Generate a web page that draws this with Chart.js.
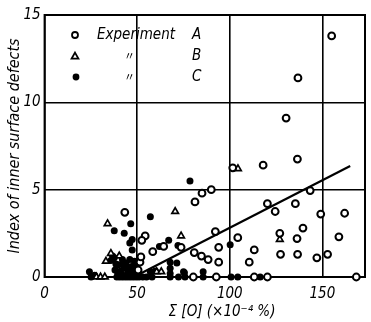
<!DOCTYPE html>
<html>
<head>
<meta charset="utf-8">
<script src="https://cdn.jsdelivr.net/npm/chart.js@4.4.0/dist/chart.umd.min.js"></script>
<style>
  html, body { margin: 0; padding: 0; background: #fff; }
  #wrap { width: 371px; height: 322px; }
</style>
</head>
<body>
<div id="wrap"><canvas id="myChart" width="371" height="322"></canvas></div>
<script>
// ------ data ------
var xTicks = [0, 50, 100, 150];
var yTicks = [0, 5, 10, 15];

// Experiment A (open circles)
var aX = [155, 136.8, 130.4, 118, 136.5, 101.6, 90, 85, 81.2, 143.4, 120.3, 124.5, 135.4, 149.1, 162,
  92.2, 104.3, 139.5, 127, 136.3, 158.9, 73.7, 94, 113.2, 80.8, 84.7, 88.3, 94, 110.5,
  127.4, 136.6, 147, 152.8, 80.3, 92.7, 113.2, 120.3, 168.3, 43.3, 54.3, 52.5, 58.4, 64.3, 51.5, 50.5, 52];
var aY = [13.8, 11.4, 9.1, 6.4, 6.75, 6.25, 5.0, 4.8, 4.3, 4.95, 4.2, 3.75, 4.2, 3.6, 3.65,
  2.6, 2.25, 2.8, 2.5, 2.2, 2.3, 1.7, 1.7, 1.55, 1.4, 1.2, 1.0, 0.85, 0.85,
  1.3, 1.3, 1.1, 1.3, 0, 0, 0, 0, 0, 3.7, 2.35, 2.1, 1.45, 1.75, 0.85, 0.4, 1.15];

// Experiment B (open triangles)
var bX = [104.4, 73.7, 127, 70.5, 34, 35.8, 40.3, 33.1, 28, 30.2, 32.5, 60.5, 63];
var bY = [6.2, 2.35, 2.15, 3.75, 3.05, 1.35, 1.2, 0.9, 0, 0, 0, 0.3, 0.3];

// Experiment C (filled circles)
var cX = [78.5, 57.1, 46.5, 37.6, 43, 47.3, 46, 47.3, 62, 67, 100.2, 72, 71.4, 75.5, 85.6,
  75.8, 85.6, 100.7, 104.3, 116.4, 72.3, 24.2, 25.1, 27, 36.7, 35.8, 37.6,
  39, 40.5, 42, 43.5, 45, 46.5, 48, 49.5, 51, 53, 41, 43, 45, 47, 44, 46, 48, 40, 42, 38,
  57.1, 59.8, 67.8, 67.8, 67.8, 67.8, 55, 58, 75,
  39.5, 41.5, 44.5, 47.5, 49, 42.5, 45.5, 48.5, 50.5, 38.5];
var cY = [5.5, 3.45, 3.05, 2.65, 2.5, 2.15, 1.95, 1.55, 1.75, 2.1, 1.85, 1.8, 0.8, 0.25, 0.3,
  0, 0, 0, 0, 0, 0, 0.3, 0, 0.1, 1.2, 0.95, 1.1,
  0, 0, 0, 0, 0, 0, 0, 0, 0, 0, 0.35, 0.5, 0.3, 0.6, 0.8, 1.0, 0.4, 0.7, 1.0, 0.4,
  0.3, 0.35, 0.85, 0.5, 0.2, 0, 0, 0, 0.3,
  0.2, 0.15, 0.15, 0.2, 0.7, 0.75, 0.55, 0.9, 0.15, 0.75];

// fitted line
var lineX = [50, 165];
var lineY = [0.1, 6.35];

var legendNames = ['Experiment', '\u3003', '\u3003'];
var legendLetters = ['A', 'B', 'C'];

function pts(xs, ys) {
  return xs.map(function (x, i) { return { x: x, y: ys[i] }; });
}

var FONT = '"DejaVu Sans Condensed", "Liberation Sans Narrow", "DejaVu Sans", sans-serif';

// frame round the plot area
var framePlugin = {
  id: 'frame',
  beforeDatasetsDraw: function (chart) {
    var a = chart.chartArea, ctx = chart.ctx;
    ctx.save();
    ctx.strokeStyle = '#000';
    ctx.lineWidth = 2;
    ctx.strokeRect(a.left, a.top, a.right - a.left, a.bottom - a.top);
    ctx.restore();
  }
};

// legend in the upper-left corner, in the style of the figure
var legendPlugin = {
  id: 'figLegend',
  afterDraw: function (chart) {
    var ctx = chart.ctx;
    var rows = [35, 56, 77];
    ctx.save();
    ctx.fillStyle = '#000';
    ctx.strokeStyle = '#000';
    ctx.lineWidth = 1.8;
    rows.forEach(function (y, i) {
      var mx = 75;
      ctx.beginPath();
      if (i === 0) {
        ctx.arc(mx, y, 3, 0, Math.PI * 2);
        ctx.stroke();
      } else if (i === 1) {
        ctx.moveTo(mx, y - 3.4);
        ctx.lineTo(mx + 3.4, y + 2.6);
        ctx.lineTo(mx - 3.4, y + 2.6);
        ctx.closePath();
        ctx.stroke();
      } else {
        ctx.arc(mx + 1, y, 3.4, 0, Math.PI * 2);
        ctx.fill();
      }
      ctx.font = 'italic 15px ' + FONT;
      ctx.textBaseline = 'middle';
      ctx.textAlign = 'left';
      if (i === 0) {
        ctx.fillText(legendNames[i], 97, y);
      } else {
        ctx.font = '11px "Noto Sans CJK JP", sans-serif';
        ctx.fillText(legendNames[i], 124, y);
        ctx.font = 'italic 15px ' + FONT;
      }
      ctx.fillText(legendLetters[i], 192, y);
    });
    ctx.restore();
  }
};

// x axis title, sits a little right of centre in the figure
var xTitlePlugin = {
  id: 'xTitle',
  afterDraw: function (chart) {
    var ctx = chart.ctx;
    ctx.save();
    ctx.fillStyle = '#000';
    ctx.font = 'italic 15px ' + FONT;
    ctx.textAlign = 'center';
    ctx.textBaseline = 'middle';
    ctx.fillText('\u03A3 [O] (\u00D710\u207B\u2074 %)', 222, 312);
    ctx.restore();
  }
};

var myChart = new Chart('myChart', {
  type: 'scatter',
  data: {
    datasets: [{
      label: 'Experiment A',
      data: pts(aX, aY),
      clip: false,
      pointStyle: 'circle',
      pointRadius: 3.4,
      pointBorderWidth: 2,
      pointBackgroundColor: '#fff',
      pointBorderColor: '#000'
    }, {
      label: 'B',
      data: pts(bX, bY),
      clip: false,
      pointStyle: 'triangle',
      pointRadius: 3.8,
      pointBorderWidth: 1.7,
      pointBackgroundColor: '#fff',
      pointBorderColor: '#000'
    }, {
      label: 'C',
      data: pts(cX, cY),
      clip: false,
      pointStyle: 'circle',
      pointRadius: 3.5,
      pointBorderWidth: 0,
      pointBackgroundColor: '#000',
      pointBorderColor: '#000'
    }, {
      type: 'line',
      label: 'fit',
      data: pts(lineX, lineY),
      borderColor: '#000',
      borderWidth: 2.2,
      pointRadius: 0,
      fill: false
    }]
  },
  options: {
    responsive: false,
    animation: false,
    events: [],
    layout: { padding: { top: 15, right: 2, left: 0, bottom: 0 } },
    plugins: {
      legend: { display: false },
      tooltip: { enabled: false }
    },
    scales: {
      x: {
        type: 'linear',
        min: 0,
        max: 173,
        afterBuildTicks: function (scale) {
          scale.ticks = xTicks.map(function (v) { return { value: v }; });
        },
        afterFit: function (scale) { scale.height = 45; },
        grid: { color: '#000', lineWidth: 1.6, drawTicks: false },
        border: { display: false },
        ticks: {
          padding: 8,
          color: '#000',
          font: { family: FONT, size: 15, style: 'italic' },
          maxRotation: 0
        }
      },
      y: {
        type: 'linear',
        min: 0,
        max: 15,
        afterBuildTicks: function (scale) {
          scale.ticks = yTicks.map(function (v) { return { value: v }; });
        },
        afterFit: function (scale) { scale.width = 44.6; },
        grid: { color: '#000', lineWidth: 1.6, drawTicks: false },
        border: { display: false },
        ticks: {
          padding: 4,
          color: '#000',
          font: { family: FONT, size: 15, style: 'italic' }
        },
        title: {
          display: true,
          text: 'Index of inner surface defects',
          color: '#000',
          font: { family: FONT, size: 16, style: 'italic' },
          padding: { top: 5.4, bottom: 0 }
        }
      }
    }
  },
  plugins: [framePlugin, legendPlugin, xTitlePlugin]
});
</script>
</body>
</html>
